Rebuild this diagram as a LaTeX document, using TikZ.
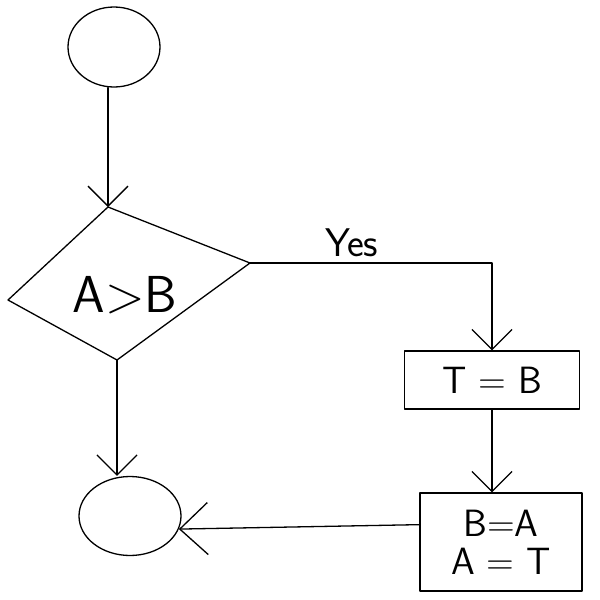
\documentclass[tikz,border=0pt]{standalone}
\usetikzlibrary{shapes.geometric,arrows.meta}
\begin{document}
\begin{tikzpicture}[x=1pt,y=-1pt,
  every node/.style={font=\sffamily},
  line/.style={draw=black,line width=1.3pt,line cap=round,line join=round},
  flow/.style={line,-{Straight Barb[length=20pt,width=40pt,line width=1.3pt]}},
  bigflow/.style={line,-{Straight Barb[length=28pt,width=52pt,line width=1.3pt]}},
  term/.style={ellipse,line,inner sep=0pt},
  bigtext/.style={font=\sffamily\fontsize{52}{52}\selectfont},
  procbox/.style={rectangle,line,inner sep=0pt,font=\sffamily\fontsize{38}{38}\selectfont,align=center}]
\useasboundingbox (0,0) rectangle (600,600);
\node[term,minimum width=92pt,minimum height=80pt] (start) at (114,47) {};
\coordinate (dtop) at (108,207);
\coordinate (dright) at (250,263);
\coordinate (dbottom) at (117,360);
\coordinate (dleft) at (8,300);
\draw[line] (dtop) -- (dright) -- (dbottom) -- (dleft) -- cycle;
\node[bigtext] (dec) at (125,295) {A>B};
\node[procbox,minimum width=175pt,minimum height=58pt] (b1) at (492,380) {T = B};
\node[procbox,minimum width=162pt,minimum height=98pt] (b2) at (501,542) {B=A\\A = T};
\node[term,minimum width=102pt,minimum height=79pt] (stop) at (130,516) {};
\draw[flow] (dtop |- start.south) -- (dtop);
\draw[flow] (dbottom) -- (dbottom |- stop.north);
\draw[flow] (dright) -| (b1.north) node[pos=0.21,above=2pt,font=\sffamily\fontsize{40}{40}\selectfont] (yes) {Yes};
\draw[flow] (b1.south) -- (b1.south |- b2.north);
\draw[bigflow] (b2.168) -- (stop.-15);
\end{tikzpicture}
\end{document}
